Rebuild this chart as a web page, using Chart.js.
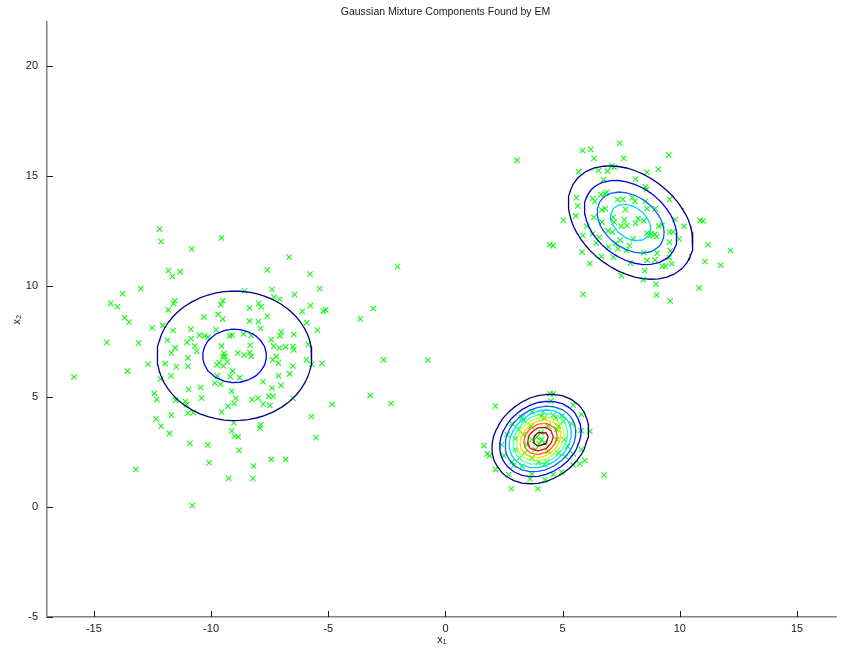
<!DOCTYPE html>
<html><head><meta charset="utf-8">
<script src="https://cdn.jsdelivr.net/npm/chart.js@4.4.1/dist/chart.umd.min.js"></script>
<style>html,body{margin:0;padding:0;background:#fff;overflow:hidden}</style>
</head><body>
<canvas id="c" width="842" height="650"></canvas>
<script>
// ---------------- data ----------------
const chartTitle = 'Gaussian Mixture Components Found by EM';
const xLabel = 'x\u2081';
const yLabel = 'x\u2082';
const xTicks = [-15, -10, -5, 0, 5, 10, 15];
const yTicks = [-5, 0, 5, 10, 15, 20];

// observed samples, cluster around (-9, 7)
const leftCluster = [[-12.2,12.6],[-12.13,12.04],[-9.56,12.2],[-10.83,11.7],[-6.67,11.33],[-11.82,10.72],[-11.65,10.45],[-11.31,10.67],[-7.6,10.75],[-5.78,10.56],[-13.77,9.67],[-13.0,9.9],[-14.28,9.23],[-14.0,9.08],[-11.55,9.35],[-11.6,9.23],[-11.82,8.94],[-9.5,9.35],[-9.59,9.17],[-8.57,9.8],[-7.4,9.86],[-7.32,9.52],[-7.08,9.42],[-6.44,9.63],[-5.37,9.9],[-7.97,9.23],[-7.87,9.08],[-8.36,9.02],[-5.76,9.13],[-5.21,8.88],[-5.11,8.94],[-3.08,9.0],[-3.63,8.53],[-6.11,8.87],[-7.6,8.64],[-10.31,8.61],[-9.7,8.73],[-9.5,8.52],[-8.36,8.43],[-7.98,8.41],[-13.69,8.58],[-13.5,8.38],[-12.51,8.12],[-12.06,8.23],[-11.62,8.0],[-10.86,8.06],[-9.79,8.03],[-7.89,8.09],[-5.92,8.35],[-5.47,8.02],[-14.45,7.46],[-13.09,7.43],[-11.86,7.56],[-10.85,7.64],[-11.03,7.46],[-10.5,7.79],[-10.27,7.76],[-10.13,7.7],[-9.21,7.76],[-9.1,7.79],[-8.61,7.84],[-8.29,7.78],[-7.0,7.94],[-7.06,7.76],[-6.47,7.82],[-7.43,7.59],[-8.33,7.33],[-9.56,7.3],[-10.7,7.29],[-11.53,7.21],[-11.69,6.98],[-10.61,7.06],[-7.33,7.29],[-7.08,7.21],[-6.82,7.26],[-6.51,7.27],[-6.47,7.12],[-5.85,7.37],[-8.86,6.98],[-8.59,6.89],[-8.35,7.0],[-8.29,6.83],[-9.45,6.97],[-9.5,6.82],[-9.41,6.83],[-10.99,6.76],[-7.22,6.83],[-7.37,6.67],[-5.93,6.68],[-5.71,6.47],[-5.27,6.51],[-2.64,6.67],[-7.13,6.53],[-6.51,6.39],[-9.66,6.55],[-9.31,6.59],[-9.48,6.39],[-9.75,6.44],[-10.99,6.38],[-11.48,6.35],[-11.96,6.5],[-12.68,6.47],[-13.57,6.16],[-15.85,5.89],[-9.08,6.16],[-11.71,5.94],[-12.15,5.8],[-9.73,5.94],[-9.18,5.91],[-8.78,5.86],[-9.84,5.62],[-9.59,5.56],[-7.78,5.68],[-7.12,5.94],[-6.65,6.03],[-7.02,5.51],[-7.4,5.39],[-10.96,5.33],[-10.45,5.42],[-9.12,5.25],[-12.42,5.15],[-12.32,4.87],[-11.51,4.84],[-10.41,4.93],[-8.95,4.93],[-8.25,4.87],[-8.0,4.93],[-7.54,5.01],[-7.36,5.01],[-3.21,5.06],[-11.1,4.78],[-11.05,4.63],[-9.28,4.57],[-9.01,4.69],[-7.78,4.66],[-7.49,4.6],[-6.5,4.92],[-4.83,4.65],[-10.99,4.25],[-10.76,4.27],[-11.69,4.16],[-9.55,4.31],[-12.34,3.99],[-12.13,3.66],[-11.77,3.33],[-9.03,3.81],[-7.89,3.72],[-7.92,3.57],[-5.72,4.1],[-9.12,3.45],[-9.0,3.2],[-8.84,3.18],[-5.52,3.14],[-10.9,2.88],[-10.14,2.81],[-8.81,2.56],[-7.43,2.15],[-6.82,2.15],[-10.08,2.0],[-8.19,1.85],[-13.21,1.7],[-9.25,1.29],[-8.22,1.29],[-10.8,0.06],[-2.05,10.9],[-0.76,6.65],[-2.32,4.69]];

// cluster around (8, 13)
const upperCluster = [[7.43,16.5],[5.85,16.17],[6.2,16.22],[6.34,15.81],[7.6,15.81],[9.53,15.96],[5.68,15.2],[6.53,15.26],[6.91,15.23],[7.1,15.47],[7.2,15.41],[8.6,15.18],[9.08,15.32],[6.75,14.85],[5.59,14.03],[5.64,13.65],[5.56,13.2],[5.03,13.0],[4.44,11.89],[4.6,11.85],[5.83,11.56],[6.16,11.04],[5.87,9.64],[6.88,14.27],[6.8,14.21],[6.63,14.17],[6.28,13.99],[6.37,13.86],[8.11,14.87],[8.53,14.52],[8.57,14.41],[7.97,14.03],[7.34,13.94],[7.57,13.95],[8.09,13.86],[8.52,13.86],[9.56,13.95],[6.67,13.47],[6.82,13.53],[7.68,13.49],[8.6,13.53],[8.95,13.53],[6.33,13.14],[7.15,13.14],[7.63,13.02],[8.22,13.08],[8.46,12.98],[9.79,13.04],[6.67,12.92],[7.2,12.92],[8.11,12.86],[6.94,12.53],[7.5,12.74],[7.74,12.76],[6.03,12.73],[5.86,12.31],[6.27,12.38],[6.56,12.22],[7.12,12.47],[7.46,12.1],[8.02,12.16],[8.6,12.42],[8.77,12.39],[9.01,12.27],[8.72,12.29],[9.1,12.74],[9.24,12.79],[9.56,12.47],[9.7,12.47],[9.97,12.16],[10.18,12.73],[10.86,13.0],[10.99,12.97],[11.2,11.89],[12.16,11.63],[11.74,10.96],[11.07,11.13],[10.82,9.93],[9.59,9.34],[9.01,9.61],[8.97,10.1],[8.44,10.31],[7.5,10.49],[9.65,11.03],[9.25,10.92],[9.38,10.92],[9.55,11.31],[9.59,11.62],[9.55,12.01],[9.03,11.51],[8.94,11.21],[8.6,11.18],[7.89,11.06],[7.17,11.33],[6.65,11.36],[7.36,11.71],[7.71,11.63],[7.84,11.86],[8.46,11.53],[7.25,11.94],[6.95,11.79],[6.43,11.97],[8.5,10.72],[8.93,12.36],[3.05,15.72]];

// cluster around (4, 3)
const lowerCluster = [[2.13,4.57],[4.46,5.13],[4.6,5.13],[4.5,4.8],[5.45,4.62],[5.8,4.19],[6.16,3.43],[1.64,2.78],[1.78,2.4],[1.88,2.32],[2.13,1.69],[2.7,1.46],[2.81,0.82],[3.94,0.82],[3.26,4.04],[3.33,3.92],[3.69,4.31],[4.08,4.11],[4.22,4.04],[4.6,4.16],[4.7,4.04],[4.96,4.11],[5.03,3.89],[5.38,3.77],[2.84,3.77],[2.63,3.28],[2.98,3.1],[3.33,3.28],[3.69,3.05],[3.9,3.16],[4.11,3.05],[4.22,2.9],[4.0,2.86],[4.08,3.36],[4.75,3.05],[5.07,3.05],[4.75,3.51],[4.82,3.66],[5.21,2.75],[5.78,3.46],[5.8,2.6],[5.95,2.1],[5.73,1.95],[5.45,1.91],[2.39,2.82],[2.49,2.32],[2.84,2.04],[2.91,1.88],[3.15,2.22],[3.38,2.45],[3.69,2.22],[3.97,2.02],[4.22,1.91],[4.32,2.04],[4.6,1.46],[3.69,1.49],[3.61,1.26],[4.25,1.23],[4.96,1.58],[3.26,1.84],[3.83,2.6],[4.39,2.52],[4.82,2.45],[5.1,2.29],[5.45,2.4],[2.98,2.6],[3.47,2.82],[3.12,3.51],[3.66,3.66],[4.39,3.66],[4.18,4.31],[6.77,1.44]];

// fitted mixture components (EM result)
const compWeights = [0.414, 0.302, 0.284];
const compMeans = [[-9.0, 6.85], [7.9, 12.9], [4.05, 3.08]];
const compCovs = [[[6.49, 0.0], [0.0, 5.15]], [[2.27, -0.75], [-0.75, 2.13]], [[0.879, 0.18], [0.18, 0.862]]];
// density contour levels
const contourLevels = [0.00493, 0.00987, 0.0148, 0.01973, 0.02467, 0.0296, 0.03453, 0.03946, 0.0444, 0.04933];

// ---------------- helpers ----------------
const X_MIN = -17, X_MAX = 16.7, Y_MIN = -5, Y_MAX = 22;
function density(px, py) {
  let s = 0;
  for (let k = 0; k < compMeans.length; k++) {
    const [mx, my] = compMeans[k];
    const [[a, b], [c, d]] = compCovs[k];
    const det = a * d - b * c;
    const dx = px - mx, dy = py - my;
    const q = (d * dx * dx - (b + c) * dx * dy + a * dy * dy) / det;
    s += compWeights[k] * Math.exp(-0.5 * q) / (2 * Math.PI * Math.sqrt(det));
  }
  return s;
}
const NX = 100, NY = 100, GX0 = -17, GX1 = 17, GY0 = -5, GY1 = 22;
const gxs = [], gys = [];
for (let i = 0; i < NX; i++) gxs.push(GX0 + i * (GX1 - GX0) / (NX - 1));
for (let j = 0; j < NY; j++) gys.push(GY0 + j * (GY1 - GY0) / (NY - 1));
const F = gxs.map(x => gys.map(y => density(x, y)));

function contourData(L) {
  const nodes = new Map();
  function ep(key, x1, y1, v1, x2, y2, v2) {
    if (!nodes.has(key)) {
      const t = (L - v1) / (v2 - v1);
      nodes.set(key, { x: x1 + t * (x2 - x1), y: y1 + t * (y2 - y1), adj: [] });
    }
    return key;
  }
  function link(a, b) { nodes.get(a).adj.push(b); nodes.get(b).adj.push(a); }
  for (let i = 0; i < NX - 1; i++) for (let j = 0; j < NY - 1; j++) {
    const v00 = F[i][j], v10 = F[i + 1][j], v11 = F[i + 1][j + 1], v01 = F[i][j + 1];
    const cr = [];
    if ((v00 >= L) !== (v10 >= L)) cr.push(ep('h' + i + '_' + j, gxs[i], gys[j], v00, gxs[i + 1], gys[j], v10));
    if ((v10 >= L) !== (v11 >= L)) cr.push(ep('v' + (i + 1) + '_' + j, gxs[i + 1], gys[j], v10, gxs[i + 1], gys[j + 1], v11));
    if ((v01 >= L) !== (v11 >= L)) cr.push(ep('h' + i + '_' + (j + 1), gxs[i], gys[j + 1], v01, gxs[i + 1], gys[j + 1], v11));
    if ((v00 >= L) !== (v01 >= L)) cr.push(ep('v' + i + '_' + j, gxs[i], gys[j], v00, gxs[i], gys[j + 1], v01));
    if (cr.length === 2) link(cr[0], cr[1]);
    else if (cr.length === 4) { link(cr[0], cr[1]); link(cr[2], cr[3]); }
  }
  const visited = new Set();
  const out = [];
  function walk(start) {
    const pts = [];
    let prev = null, cur = start;
    while (cur !== undefined && !visited.has(cur)) {
      visited.add(cur);
      const n = nodes.get(cur);
      pts.push({ x: n.x, y: n.y });
      const next = n.adj.find(a => a !== prev && !visited.has(a));
      prev = cur; cur = next;
    }
    const s = nodes.get(start);
    if (s.adj.length === 2 && pts.length > 2) pts.push({ x: s.x, y: s.y });
    out.push(...pts, { x: null, y: null });
  }
  for (const [k, n] of nodes) if (n.adj.length === 1 && !visited.has(k)) walk(k);
  for (const [k] of nodes) if (!visited.has(k)) walk(k);
  return out;
}
function jet(t) {
  const cl = v => Math.max(0, Math.min(1, v));
  const r = cl(1.5 - Math.abs(4 * t - 3)), g = cl(1.5 - Math.abs(4 * t - 2)), b = cl(1.5 - Math.abs(4 * t - 1));
  return `rgb(${Math.round(r * 255)},${Math.round(g * 255)},${Math.round(b * 255)})`;
}

const FONT = '"Liberation Sans", Arial, Helvetica, sans-serif';
const datasets = [];
contourLevels.forEach((L, k) => {
  datasets.push({
    type: 'scatter', label: 'level ' + L, data: contourData(L), showLine: true, spanGaps: false,
    borderColor: jet(k / (contourLevels.length - 1)), borderWidth: 1.3, pointRadius: 0, fill: false, tension: 0
  });
});
const allPoints = [...leftCluster, ...upperCluster, ...lowerCluster].map(([x, y]) => ({ x, y }));
datasets.push({
  type: 'scatter', label: 'data', data: allPoints, pointStyle: 'crossRot', pointRadius: 3.8,
  borderColor: 'rgb(20,250,20)', backgroundColor: 'rgb(20,250,20)', borderWidth: 1.1, showLine: false
});

const decor = {
  id: 'decor',
  afterDraw(chart) {
    const { ctx, chartArea: a, scales: { x, y } } = chart;
    ctx.save();
    ctx.strokeStyle = '#1a1a1a'; ctx.lineWidth = 1;
    xTicks.forEach(v => { const p = Math.round(x.getPixelForValue(v)) + 0.5; ctx.beginPath(); ctx.moveTo(p, a.bottom); ctx.lineTo(p, a.bottom - 6); ctx.stroke(); });
    yTicks.forEach(v => { const p = Math.round(y.getPixelForValue(v)) + 0.5; ctx.beginPath(); ctx.moveTo(a.left, p); ctx.lineTo(a.left + 6, p); ctx.stroke(); });
    ctx.fillStyle = '#1a1a1a'; ctx.font = '10.5px ' + FONT; ctx.textAlign = 'center'; ctx.textBaseline = 'middle';
    ctx.fillText(chartTitle, (a.left + x.getPixelForValue(17)) / 2, 12);
    ctx.restore();
  }
};

new Chart(document.getElementById('c'), {
  data: { datasets },
  plugins: [decor],
  options: {
    responsive: false, animation: false, devicePixelRatio: 1,
    layout: { padding: { top: 22, left: 0, right: 0, bottom: 0 } },
    plugins: { legend: { display: false }, tooltip: { enabled: false }, title: { display: false } },
    scales: {
      x: {
        type: 'linear', min: X_MIN, max: X_MAX,
        afterFit(s) { s.height = 33; },
        afterBuildTicks(s) { s.ticks = xTicks.map(v => ({ value: v })); },
        grid: { display: false, drawTicks: false },
        border: { display: true, color: '#808080', width: 1.5 },
        ticks: { padding: 5, color: '#1a1a1a', font: { family: FONT, size: 11 }, autoSkip: false, maxRotation: 0, callback: v => String(v) },
        title: { display: true, text: xLabel, color: '#1a1a1a', font: { family: FONT, size: 11 }, padding: { top: 0, bottom: 3 } }
      },
      y: {
        type: 'linear', min: Y_MIN, max: Y_MAX,
        afterFit(s) { s.width = 47; },
        afterBuildTicks(s) { s.ticks = yTicks.map(v => ({ value: v })); },
        grid: { display: false, drawTicks: false },
        border: { display: true, color: '#808080', width: 1.5 },
        ticks: { padding: 9, color: '#1a1a1a', font: { family: FONT, size: 11 }, autoSkip: false, callback: v => String(v) },
        title: { display: true, text: yLabel, color: '#1a1a1a', font: { family: FONT, size: 11 }, padding: { top: 10, bottom: 0 } }
      }
    }
  }
});
</script>
</body></html>
